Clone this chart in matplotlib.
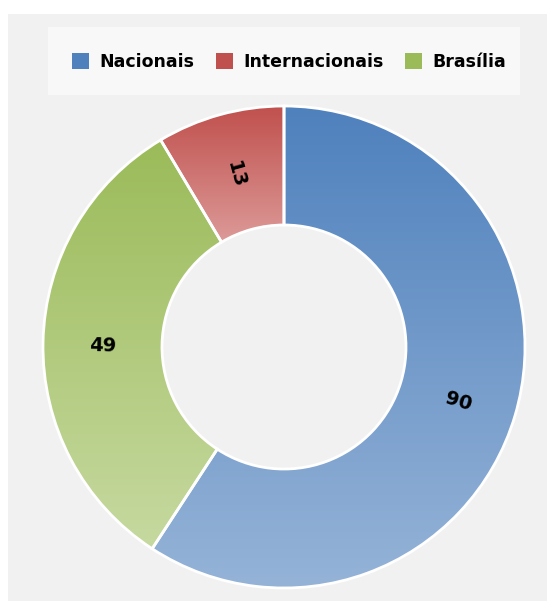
import numpy as np
import matplotlib.pyplot as plt
from matplotlib.patches import Rectangle, Patch
from matplotlib.colors import LinearSegmentedColormap

plt.rcParams['font.family'] = ['DejaVu Sans']

# dados
categorias = ["Nacionais", "Brasília", "Internacionais"]
valores = [90, 49, 13]
ordem_legenda = ["Nacionais", "Internacionais", "Brasília"]
cor_topo = {"Nacionais": "#4f81bd", "Brasília": "#9bbb59", "Internacionais": "#c0504d"}
cor_base = {"Nacionais": "#95b3d7", "Brasília": "#c6d9a0", "Internacionais": "#dc9a98"}

W, H = 547, 601
fig = plt.figure(figsize=(W / 100, H / 100), dpi=100)
fig.patch.set_facecolor("white")

# painel cinza de fundo
fig.patches.append(Rectangle((8 / W, 0), 1 - 8 / W, (H - 14) / H, transform=fig.transFigure,
                             facecolor="#f1f1f1", edgecolor="none", zorder=-2))
# caixa da legenda
fig.patches.append(Rectangle((48 / W, 1 - 95 / H), 472 / W, 68 / H, transform=fig.transFigure,
                             facecolor="#f8f8f8", edgecolor="none", zorder=-1))

ax = fig.add_axes([0, 0, 1, 1])
ax.set_zorder(1)
ax.patch.set_alpha(0)

cx, cy = 284, H - 347
raio = 241
largura = 119

wedges, _ = ax.pie(valores, startangle=90, counterclock=False, radius=raio,
                   center=(cx, cy), wedgeprops=dict(width=largura, edgecolor="white", linewidth=2))

for w, cat, v in zip(wedges, categorias, valores):
    # gradiente vertical recortado na fatia
    bb = w.get_path().get_extents()
    cmap = LinearSegmentedColormap.from_list(cat, [cor_base[cat], cor_topo[cat]])
    grad = np.linspace(0, 1, 256).reshape(-1, 1)
    im = ax.imshow(grad, cmap=cmap, extent=(bb.x0, bb.x1, bb.y0, bb.y1),
                   origin="lower", aspect="auto", zorder=1)
    im.set_clip_path(w)
    w.set_facecolor("none")
    w.set_zorder(2)

    # rótulo radial
    ang = (w.theta1 + w.theta2) / 2
    r = raio - largura / 2
    x = cx + r * np.cos(np.radians(ang))
    y = cy + r * np.sin(np.radians(ang)) - 3
    rot = ang
    while rot > 90:
        rot -= 180
    while rot < -90:
        rot += 180
    ax.text(x, y, str(v), rotation=rot, rotation_mode="anchor", ha="center", va="center",
            fontsize=14, fontweight="bold", color="black", zorder=3)

ax.set_xlim(0, W)
ax.set_ylim(0, H)
ax.set_aspect("equal")
ax.axis("off")

handles = [Patch(facecolor=cor_topo[c], edgecolor="none") for c in ordem_legenda]
fig.legend(handles, ordem_legenda, loc="center", bbox_to_anchor=(289 / W, 1 - 62 / H),
           ncol=3, frameon=False, prop={"weight": "bold", "size": 12.5},
           handlelength=1.0, handleheight=1.0, handletextpad=0.6, columnspacing=1.2)

fig.savefig("out.png", dpi=100)
